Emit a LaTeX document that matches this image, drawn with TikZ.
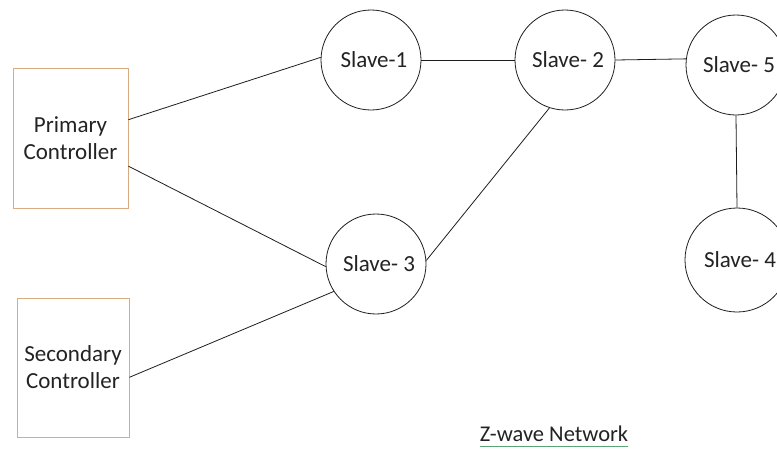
\documentclass[tikz,border=0pt]{standalone}
\usepackage{fontspec}
\setmainfont{Carlito}
\usetikzlibrary{calc}
\definecolor{txt}{RGB}{35,35,35}
\definecolor{edge}{RGB}{30,30,30}
\definecolor{boxc}{RGB}{214,172,128}
\definecolor{ulc}{RGB}{90,165,115}
\tikzset{
  slave/.style={circle,draw=edge,line width=0.8pt,minimum size=100pt,inner sep=0pt,
    text=txt,font=\fontsize{23}{27}\selectfont},
  ctrl/.style={rectangle,draw=boxc,line width=0.9pt,inner sep=0pt,align=center,
    text=txt,font=\fontsize{23}{27}\selectfont},
  link/.style={draw=edge,line width=0.8pt}
}
\begin{document}
\begin{tikzpicture}[x=1pt,y=-1pt]
\useasboundingbox[fill=white] (0,0) rectangle (777,448);
\node[ctrl,minimum width=115pt,minimum height=140pt] (prim) at (70.5,138) {Primary\\Controller};
\node[ctrl,minimum width=112pt,minimum height=139pt] (sec) at (73,367.5) {Secondary\\Controller};
\node[slave] (s1) at (371,60) {\hspace{6pt}Slave-1};
\node[slave] (s2) at (565,60) {\hspace{6pt}Slave- 2};
\node[slave] (s3) at (376,264) {\hspace{6pt}Slave- 3};
\node[slave] (s5) at (736,65) {\hspace{6pt}Slave- 5};
\node[slave,minimum size=104pt] (s4) at (737,260) {\hspace{6pt}Slave- 4};
\node[anchor=base,inner sep=0pt,text=txt,font=\fontsize{22.5}{26}\selectfont] (title) at (554,441) {Z-wave Network};
\draw[draw=ulc,line width=1.2pt] ($(title.base west)+(0,5.5)$) -- ($(title.base east)+(0,5.5)$);
\path[link] ($(prim.south east)!0.63!(prim.north east)$) -- (s1.177);
\path[link] ($(prim.south east)!0.30!(prim.north east)$) -- (s3.183);
\path[link] ($(sec.south east)!0.43!(sec.north east)$) -- (s3.213);
\path[link] (s3.4) -- (s2.252);
\path[link] (s1.east) -- (s2.west);
\path[link] (s2.east) -- (s5.173);
\path[link] (s5.south) -- (s4.north);
\end{tikzpicture}
\end{document}
